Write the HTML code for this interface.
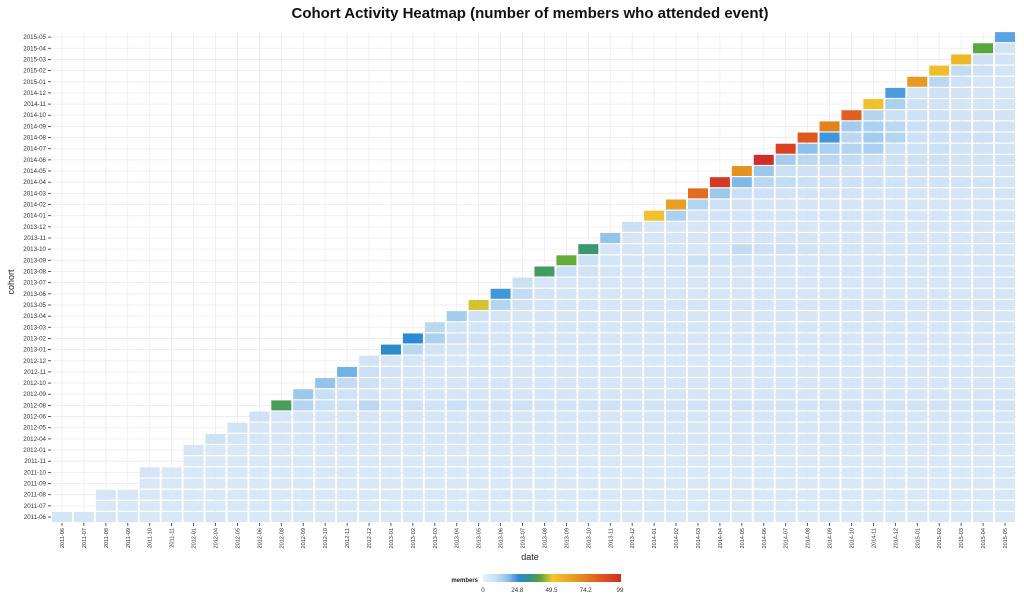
<!DOCTYPE html>
<html><head><meta charset="utf-8"><style>
body{margin:0;background:#fff;}
svg{display:block;font-family:"Liberation Sans",sans-serif;}
</style></head><body>
<svg id="chart" width="1024" height="599" viewBox="0 0 1024 599">
<defs><linearGradient id="lg" x1="0" x2="1" y1="0" y2="0">
<stop offset="0" stop-color="#e6f0fa"/><stop offset="0.1" stop-color="#c6ddf3"/><stop offset="0.18" stop-color="#8fc1ea"/><stop offset="0.26" stop-color="#2a8ad8"/><stop offset="0.36" stop-color="#3b9670"/><stop offset="0.42" stop-color="#5caa3a"/><stop offset="0.5" stop-color="#f2c82c"/><stop offset="0.72" stop-color="#e38a1e"/><stop offset="0.86" stop-color="#e1541f"/><stop offset="1" stop-color="#d02e26"/>
</linearGradient></defs>
<text x="530" y="18" text-anchor="middle" font-size="15" font-weight="bold" fill="#111">Cohort Activity Heatmap (number of members who attended event)</text>
<g id="grid"></g><g id="cells"></g><g id="xaxis"></g><g id="yaxis"></g>
<text x="530" y="560" text-anchor="middle" font-size="9" fill="#222">date</text>
<text transform="translate(14,282) rotate(-90)" text-anchor="middle" font-size="9" fill="#222">cohort</text>
<g>
<text x="478" y="582" text-anchor="end" font-size="6" font-weight="bold" fill="#222">members</text>
<rect x="483" y="574" width="138" height="8" fill="url(#lg)"/>
<g id="legticks"></g>
</g>
</svg>
<script>
const labels=["2011-06","2011-07","2011-08","2011-09","2011-10","2011-11","2012-01","2012-04","2012-05","2012-06","2012-08","2012-09","2012-10","2012-11","2012-12","2013-01","2013-02","2013-03","2013-04","2013-05","2013-06","2013-07","2013-08","2013-09","2013-10","2013-11","2013-12","2014-01","2014-02","2014-03","2014-04","2014-05","2014-06","2014-07","2014-08","2014-09","2014-10","2014-11","2014-12","2015-01","2015-02","2015-03","2015-04","2015-05"];
const rowStarts=[0,2,2,4,4,6,6,7,8,9,10,11,12,13,14,15,16,17,18,19,20,21,22,23,24,25,26,27,28,29,30,31,32,33,34,35,36,37,38,39,40,41,42,43];
const legendTicks=[0,24.8,49.5,74.2,99];
const rows=[
[7,7,6,6,5,5,5,6,5,5,5,5,5,5,5,5,5,5,5,5,5,5,5,5,5,5,5,5,5,5,5,5,5,5,5,5,5,5,5,5,5,5,5,5],
[5,5,5,5,5,5,5,5,5,5,5,5,5,5,5,5,5,5,5,5,5,5,5,5,5,5,5,5,5,5,5,5,5,5,5,5,5,5,5,5,5,5],
[6,6,5,5,5,5,5,5,5,5,5,5,5,5,5,5,5,5,5,5,5,5,5,5,5,5,5,5,5,5,5,5,5,5,5,5,5,5,5,5,5,5],
[5,5,5,5,5,5,5,5,5,5,5,5,5,5,5,5,5,5,5,5,5,5,5,5,5,5,5,5,5,5,5,5,5,5,5,5,5,5,5,5],
[6,5,5,5,5,5,5,5,5,5,5,5,5,5,5,5,5,5,5,5,5,5,5,5,5,5,5,5,5,5,5,5,5,5,5,5,5,5,5,5],
[5,5,5,5,5,5,5,5,5,5,5,5,5,5,5,5,5,5,5,5,5,5,5,5,5,5,5,5,5,5,5,5,5,5,5,5,5,5],
[6,5,5,5,5,5,5,5,5,5,5,5,5,5,5,5,5,5,5,5,5,5,5,5,5,5,5,5,5,5,5,5,5,5,5,5,5,5],
[9,7,6,6,6,6,7,6,6,6,6,6,6,6,6,6,6,6,6,6,6,6,6,6,6,6,6,6,7,6,6,6,6,6,6,6,6],
[8,6,6,6,6,6,6,6,6,6,6,6,6,6,6,6,6,6,6,6,6,6,6,6,6,6,6,6,6,6,6,6,6,6,6,6],
[9,6,6,6,6,6,6,6,6,6,6,6,6,6,6,6,6,6,6,6,6,6,6,6,6,6,6,6,6,6,6,6,6,6,6],
[38,13,10,9,12,8,9,8,10,8,8,9,8,8,8,9,8,8,8,8,8,9,8,8,8,8,8,8,8,8,8,8,8,8],
[16,10,8,7,6,6,6,6,6,6,6,6,6,6,6,6,6,6,6,6,6,6,6,6,6,6,6,6,6,6,6,6,6],
[17,11,9,7,7,6,6,6,6,6,6,6,6,6,6,6,6,6,6,6,6,6,6,6,6,6,6,6,6,6,6,6],
[20,10,8,7,6,6,6,6,6,6,6,6,6,6,6,6,6,6,6,6,6,6,6,6,6,6,6,6,6,6,6],
[8,6,6,6,5,5,5,5,5,5,5,5,5,5,5,5,5,5,5,5,5,5,5,5,5,5,5,5,5,5],
[27,12,8,7,6,6,6,6,6,6,6,6,6,6,6,6,6,6,6,6,6,6,6,6,6,6,6,6,6],
[26,14,9,8,7,7,6,6,6,6,6,6,6,6,6,6,6,6,6,6,6,6,6,6,6,6,6,6],
[12,8,7,6,6,6,6,6,6,6,6,6,6,6,6,6,6,6,6,6,6,6,6,6,6,6,6],
[15,9,7,6,6,6,6,6,6,6,6,6,6,6,6,6,6,6,6,6,6,6,6,6,6,6],
[48,13,8,7,7,6,6,6,6,6,7,6,6,6,6,6,6,6,6,6,6,6,6,6,6],
[24,11,8,7,6,6,6,6,6,6,6,6,6,6,6,6,6,6,6,6,6,6,6,6],
[10,6,6,6,6,6,6,6,6,6,6,6,6,6,6,6,6,6,6,6,6,6,6],
[37,10,8,7,6,6,6,6,6,6,6,6,6,6,6,6,6,6,6,6,6,6],
[42,10,7,7,6,6,10,8,8,7,6,6,6,6,6,6,6,6,6,6,6],
[36,7,7,6,6,6,6,11,9,9,8,7,7,6,6,6,6,6,6,6],
[17,6,6,6,6,6,6,7,7,7,6,6,6,6,6,6,6,6,6],
[10,6,6,6,6,6,6,6,6,6,6,6,6,6,6,6,6,6],
[52,14,8,8,7,7,7,7,7,7,6,6,6,6,6,6,6],
[64,13,9,8,7,7,7,7,7,7,6,7,6,6,6,6],
[79,16,10,9,8,8,8,8,7,7,7,7,7,7,7],
[95,19,12,11,10,9,9,9,8,8,8,8,8,7],
[68,16,10,9,9,8,8,8,8,8,7,7,7],
[99,15,12,12,11,10,9,9,9,8,8,8],
[92,18,14,13,14,10,9,10,8,8,8],
[84,24,12,15,13,9,9,9,9,8],
[73,15,14,12,10,9,9,8,8],
[82,13,10,9,9,8,8,8],
[52,14,9,8,7,7,7],
[23,7,9,8,7,6],
[66,12,9,7,6],
[53,11,9,7],
[55,10,8],
[41,8],
[22]
];
const NS="http://www.w3.org/2000/svg";
const x0=62,dx=21.93,y0=517,dy=11.16,cw=20,ch=10;
const xPos=c=>x0+c*dx, yPos=r=>y0-r*dy;
const stops=[[0,[230,240,250]],[0.1,[204,224,244]],[0.18,[143,193,234]],[0.26,[42,138,216]],[0.36,[59,150,112]],[0.42,[92,170,58]],[0.5,[242,200,44]],[0.72,[227,138,30]],[0.86,[225,84,31]],[1,[208,46,38]]];
function color(v){let t=Math.max(0,Math.min(1,v/99));for(let i=1;i<stops.length;i++){if(t<=stops[i][0]){const a=stops[i-1],b=stops[i],f=(t-a[0])/(b[0]-a[0]);const c=a[1].map((x,k)=>Math.round(x+(b[1][k]-x)*f));return`rgb(${c})`;}}return"rgb(208,46,38)";}
function mk(tag,attrs,parent){const e=document.createElementNS(NS,tag);for(const k in attrs)e.setAttribute(k,attrs[k]);parent.appendChild(e);return e;}
const grid=document.getElementById("grid"),cells=document.getElementById("cells"),xa=document.getElementById("xaxis"),ya=document.getElementById("yaxis");
labels.forEach((l,i)=>{
  const gv=mk("line",{x1:xPos(i),x2:xPos(i),y1:31,y2:523,stroke:"#ececec","stroke-width":0.8},grid);
  
  
  const gh=mk("line",{x1:51,x2:1016,y1:yPos(i),y2:yPos(i),stroke:"#ececec","stroke-width":0.8},grid);
  
  
  const xt=mk("line",{x1:xPos(i),x2:xPos(i),y1:523,y2:526,stroke:"#333","stroke-width":0.8},xa);
  
  
  const xl=mk("text",{transform:`translate(${xPos(i)+2},528) rotate(-90)`,"text-anchor":"end","font-size":5.6,fill:"#333"},xa);
  xl.textContent=l;
  
  
  const yt=mk("line",{x1:48,x2:51,y1:yPos(i),y2:yPos(i),stroke:"#333","stroke-width":0.8},ya);
  
  
  const yl=mk("text",{x:46,y:yPos(i)+2,"text-anchor":"end","font-size":6.2,fill:"#333"},ya);
  yl.textContent=l;
  
  
});
rows.forEach((row,r)=>{
  row.forEach((v,k)=>{
    const c=rowStarts[r]+k; if(c>43)return;
    const rect=mk("rect",{x:xPos(c)-cw/2,y:yPos(r)-ch/2,width:cw,height:ch,fill:color(v)},cells);
    
    
  });
});
const lt=document.getElementById("legticks");
legendTicks.forEach(v=>{
  const t=mk("text",{x:483+v/99*137,y:592,"text-anchor":"middle","font-size":6.2,fill:"#333"},lt);
  t.textContent=String(v);
  
  
});
</script>
</body></html>
